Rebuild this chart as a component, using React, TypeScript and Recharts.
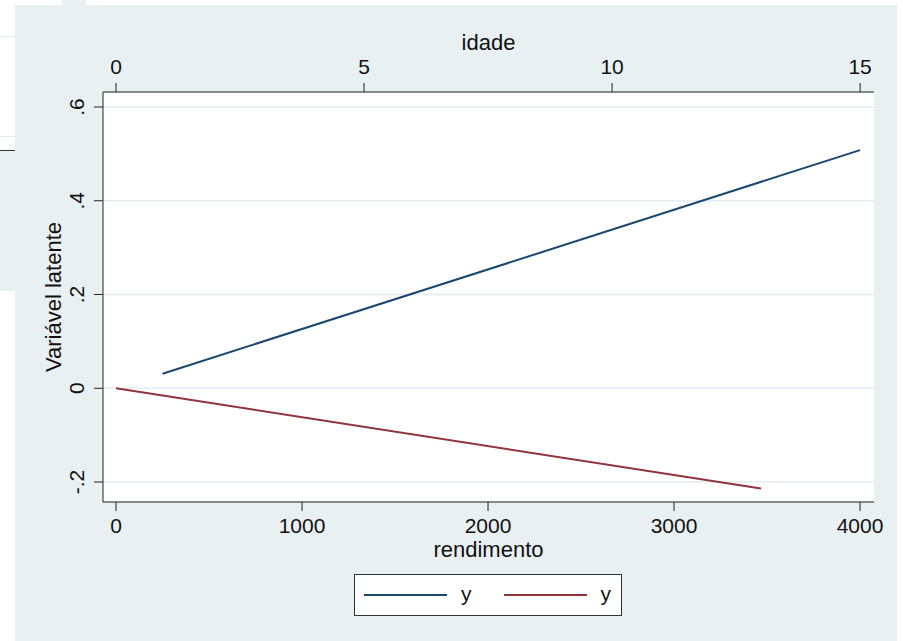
import { LineChart, Line, XAxis, YAxis, CartesianGrid, Label, Legend } from 'recharts';

// series
const rendimento = [250, 4000];
const yRendimento = [0.031, 0.508];
const idade = [0, 13];
const yIdade = [0, -0.214];

const rendimentoTicks = [0, 1000, 2000, 3000, 4000];
const idadeTicks = [0, 5, 10, 15];
const yTicks = [-0.2, 0, 0.2, 0.4, 0.6];
const seriesNames = ['y', 'y'];

const NAVY = '#1a476f';
const MAROON = '#90353b';
const BG = '#e9f0f2';
const AXIS = '#222';
const FONT = '"Liberation Sans", Arial, Helvetica, sans-serif';

const blueData = rendimento.map((r, i) => ({ rendimento: r, y: yRendimento[i] }));
const redData = idade.map((a, i) => ({ idade: a, y: yIdade[i] }));

const fmtY = (v: number) => (v === 0 ? '0' : v.toFixed(1).replace('0.', '.'));

const BottomTick = ({ x, y, payload }: any) => (
  <text x={x} y={y} dy={22} textAnchor="middle" fontSize={21} fontFamily={FONT} fill="#111">
    {payload.value}
  </text>
);

const TopTick = ({ x, y, payload }: any) => (
  <text x={x} y={y} dy={-9} textAnchor="middle" fontSize={21} fontFamily={FONT} fill="#111">
    {payload.value}
  </text>
);

const LeftTick = ({ x, y, payload }: any) => {
  const bx = x - 10;
  return (
    <text x={bx} y={y} transform={`rotate(-90 ${bx} ${y})`} textAnchor="middle" fontSize={21} fontFamily={FONT} fill="#111">
      {fmtY(payload.value)}
    </text>
  );
};

const renderLegend = ({ payload }: any) => (
  <div
    style={{
      boxSizing: 'border-box',
      width: 268,
      height: 42,
      background: '#fff',
      border: '1px solid #333',
      display: 'flex',
      alignItems: 'center',
      paddingLeft: 9,
      fontFamily: FONT,
      fontSize: 21,
      color: '#111',
    }}
  >
    {(payload || []).map((p: any, i: number) => (
      <div key={i} style={{ display: 'flex', alignItems: 'center', marginRight: i === 0 ? 32 : 0 }}>
        <div style={{ width: 83, height: 2, background: p.color }} />
        <span style={{ marginLeft: 14, lineHeight: '21px', position: 'relative', top: -2 }}>{p.value}</span>
      </div>
    ))}
  </div>
);

export default function App() {
  return (
    <div style={{ position: 'absolute', left: 0, top: 0, width: 903, height: 641, background: '#fff', overflow: 'hidden' }}>
      {/* stray window bits round the graph */}
      <div style={{ position: 'absolute', left: 0, top: 36, width: 15, height: 1, background: '#e4e9eb' }} />
      <div style={{ position: 'absolute', left: 0, top: 136, width: 15, height: 1, background: '#e4e9eb' }} />
      <div style={{ position: 'absolute', left: 0, top: 150, width: 15, height: 141, background: BG }} />
      <div style={{ position: 'absolute', left: 0, top: 150, width: 15, height: 1, background: '#333' }} />
      <div style={{ position: 'absolute', left: 62, top: 0, width: 24, height: 5, background: BG }} />
      <div style={{ position: 'absolute', left: 15, top: 5, width: 882, height: 636, background: BG }} />

      <div style={{ position: 'absolute', left: 0, top: 0 }}>
        <LineChart width={903} height={641} margin={{ top: 91, left: 102, right: 29, bottom: 138 }}>
          <CartesianGrid xAxisId="bottom" vertical={false} fill="#fff" stroke="#e4ecef" strokeWidth={1.5} />
          <XAxis
            xAxisId="bottom"
            dataKey="rendimento"
            type="number"
            domain={[-70, 4075]}
            allowDataOverflow
            ticks={rendimentoTicks}
            height={1}
            tickSize={9}
            tickMargin={0}
            tick={<BottomTick />}
            axisLine={{ stroke: AXIS }}
            tickLine={{ stroke: AXIS }}
          >
            <Label
              content={({ viewBox }: any) => (
                <text x={viewBox.x + viewBox.width / 2} y={502 + 55} textAnchor="middle" fontSize={22} fontFamily={FONT} fill="#111">
                  rendimento
                </text>
              )}
            />
          </XAxis>
          <XAxis
            xAxisId="top"
            orientation="top"
            dataKey="idade"
            type="number"
            domain={[-0.262, 15.28]}
            allowDataOverflow
            ticks={idadeTicks}
            height={1}
            tickSize={9}
            tickMargin={0}
            tick={<TopTick />}
            axisLine={{ stroke: AXIS }}
            tickLine={{ stroke: AXIS }}
          >
            <Label
              content={({ viewBox }: any) => (
                <text x={viewBox.x + viewBox.width / 2} y={92 - 42} textAnchor="middle" fontSize={22} fontFamily={FONT} fill="#111">
                  idade
                </text>
              )}
            />
          </XAxis>
          <YAxis
            type="number"
            domain={[-0.2426, 0.632]}
            allowDataOverflow
            ticks={yTicks}
            width={1}
            tickSize={9}
            tickMargin={0}
            tick={<LeftTick />}
            axisLine={{ stroke: AXIS }}
            tickLine={{ stroke: AXIS }}
          >
            <Label
              content={({ viewBox }: any) => {
                const lx = 103 - 42;
                const ly = viewBox.y + viewBox.height / 2;
                return (
                  <text x={lx} y={ly} transform={`rotate(-90 ${lx} ${ly})`} textAnchor="middle" fontSize={22} fontFamily={FONT} fill="#111">
                    Variável latente
                  </text>
                );
              }}
            />
          </YAxis>
          <Line
            xAxisId="bottom"
            data={blueData}
            dataKey="y"
            name={seriesNames[0]}
            stroke={NAVY}
            strokeWidth={2}
            dot={false}
            isAnimationActive={false}
          />
          <Line
            xAxisId="top"
            data={redData}
            dataKey="y"
            name={seriesNames[1]}
            stroke={MAROON}
            strokeWidth={2}
            dot={false}
            isAnimationActive={false}
          />
          <Legend
            layout="horizontal"
            verticalAlign="middle"
            align="center"
            content={renderLegend}
            wrapperStyle={{ left: 354, top: 574, width: 268, height: 42 }}
          />
        </LineChart>
      </div>
    </div>
  );
}
